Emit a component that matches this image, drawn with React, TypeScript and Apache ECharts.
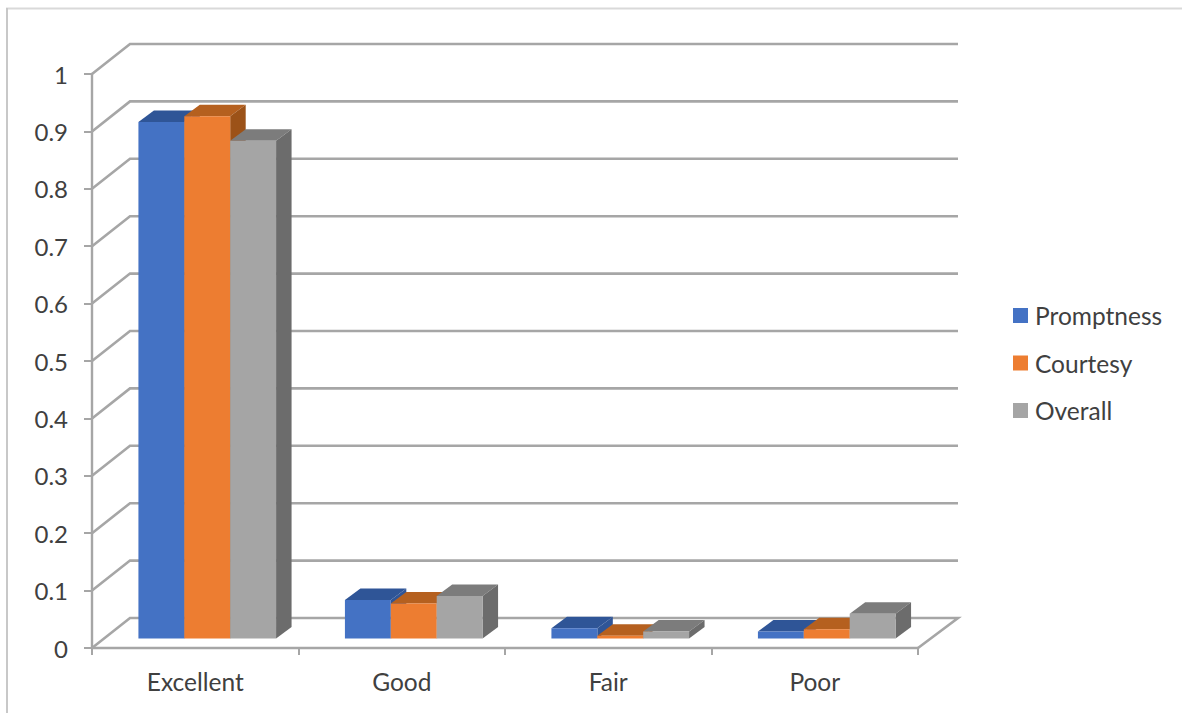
import React, { useEffect, useRef } from "react";
import * as echarts from "echarts";

const categories = ["Excellent", "Good", "Fair", "Poor"];
const promptness = [0.9, 0.067, 0.018, 0.012];
const courtesy = [0.91, 0.061, 0.005, 0.016];
const overall = [0.867, 0.074, 0.012, 0.043];
const yTicks = [0, 0.1, 0.2, 0.3, 0.4, 0.5, 0.6, 0.7, 0.8, 0.9, 1];

const WALL_DX = 38;
const WALL_DY = -30;
const FLOOR_DX = 12;
const FLOOR_DY = -9.5;
const BAR_DX = 15.5;
const BAR_DY = -11.5;
const BAR_RATIO = 0.2222;
const GRID_COLOR = "#A6A6A6";
const TEXT_COLOR = "#404040";
const FONT = "Lato, 'Open Sans', sans-serif";

function barSeries(name: string, values: number[], index: number, front: string, top: string, side: string) {
  return {
    name,
    type: "custom",
    z: 3 + index,
    itemStyle: { color: front },
    data: values.map((v, i) => [i, v]),
    encode: { x: 0, y: 1 },
    clip: false,
    renderItem: (_params: any, api: any) => {
      const cat = api.value(0);
      const val = api.value(1);
      const band = api.size([1, 0])[0];
      const w = band * BAR_RATIO;
      const [cx, yTop0] = api.coord([cat, val]);
      const [, yBase0] = api.coord([cat, 0]);
      const x0 = cx + FLOOR_DX + (index - 1.5) * w;
      const x1 = x0 + w;
      const yTop = yTop0 + FLOOR_DY;
      const yBase = yBase0 + FLOOR_DY;
      return {
        type: "group",
        children: [
          {
            type: "polygon",
            shape: { points: [[x0, yTop], [x1, yTop], [x1 + BAR_DX, yTop + BAR_DY], [x0 + BAR_DX, yTop + BAR_DY]] },
            style: { fill: top },
          },
          {
            type: "polygon",
            shape: { points: [[x1, yTop], [x1 + BAR_DX, yTop + BAR_DY], [x1 + BAR_DX, yBase + BAR_DY], [x1, yBase]] },
            style: { fill: side },
          },
          { type: "rect", shape: { x: x0, y: yTop, width: w, height: yBase - yTop }, style: { fill: front } },
        ],
      };
    },
  };
}

export default function App() {
  const ref = useRef<HTMLDivElement>(null);
  useEffect(() => {
    const chart = echarts.init(ref.current!, undefined, { renderer: "svg" });
    chart.setOption({
      animation: false,
      backgroundColor: "#ffffff",
      grid: { left: 92, right: 264, top: 74, bottom: 67, containLabel: false },
      xAxis: {
        type: "category",
        data: categories,
        axisLine: { lineStyle: { color: GRID_COLOR, width: 2.4 } },
        axisTick: { show: true, alignWithLabel: false, length: 7, lineStyle: { color: GRID_COLOR, width: 2 } },
        axisLabel: { color: TEXT_COLOR, fontSize: 24.5, fontFamily: FONT, margin: 21 },
        splitLine: { show: false },
      },
      yAxis: {
        type: "value",
        min: 0,
        max: 1,
        interval: 0.1,
        axisLine: { show: true, lineStyle: { color: GRID_COLOR, width: 2.4 } },
        axisTick: { show: true, length: 8, lineStyle: { color: GRID_COLOR, width: 2 } },
        axisLabel: { color: TEXT_COLOR, fontSize: 24, fontFamily: FONT, margin: 24, align: "right", padding: [3, 0, 0, 0] },
        splitLine: { show: false },
      },
      legend: {
        orient: "vertical",
        left: 1008,
        top: 298,
        icon: "rect",
        itemWidth: 15,
        itemHeight: 15,
        itemGap: 22.5,
        textStyle: { color: TEXT_COLOR, fontSize: 24.5, lineHeight: 25, fontFamily: FONT, padding: [0, 0, 0, 2] },
        data: ["Promptness", "Courtesy", "Overall"],
      },
      graphic: [
        { type: "line", shape: { x1: 6, y1: 8.5, x2: 1182, y2: 8.5 }, style: { stroke: "#D9D9D9", lineWidth: 2 } },
        { type: "line", shape: { x1: 7, y1: 8, x2: 7, y2: 713 }, style: { stroke: "#C8C8C8", lineWidth: 2 } },
      ],
      series: [
        {
          type: "custom",
          z: 1,
          silent: true,
          clip: false,
          data: yTicks.map((v) => [0, v]),
          encode: { x: 0, y: 1 },
          renderItem: (params: any, api: any) => {
            const v = api.value(1);
            const y = api.coord([0, v])[1];
            const left = params.coordSys.x;
            const right = left + params.coordSys.width;
            const lineStyle = { stroke: GRID_COLOR, lineWidth: 2.6, fill: "none" };
            const pts: number[][] = [[left, y], [left + WALL_DX, y + WALL_DY], [right + WALL_DX + 2, y + WALL_DY]];
            if (v === 0) pts.push([right, y]);
            return { type: "polyline", shape: { points: pts }, style: lineStyle };
          },
        },
        barSeries("Promptness", promptness, 0, "#4472C4", "#2F5597", "#2F5597"),
        barSeries("Courtesy", courtesy, 1, "#ED7D31", "#B5601F", "#9C5218"),
        barSeries("Overall", overall, 2, "#A5A5A5", "#7C7C7C", "#6C6C6C"),
      ],
    });
    return () => chart.dispose();
  }, []);
  return <div ref={ref} style={{ position: "fixed", left: 0, top: 0, width: 1182, height: 715 }} />;
}
